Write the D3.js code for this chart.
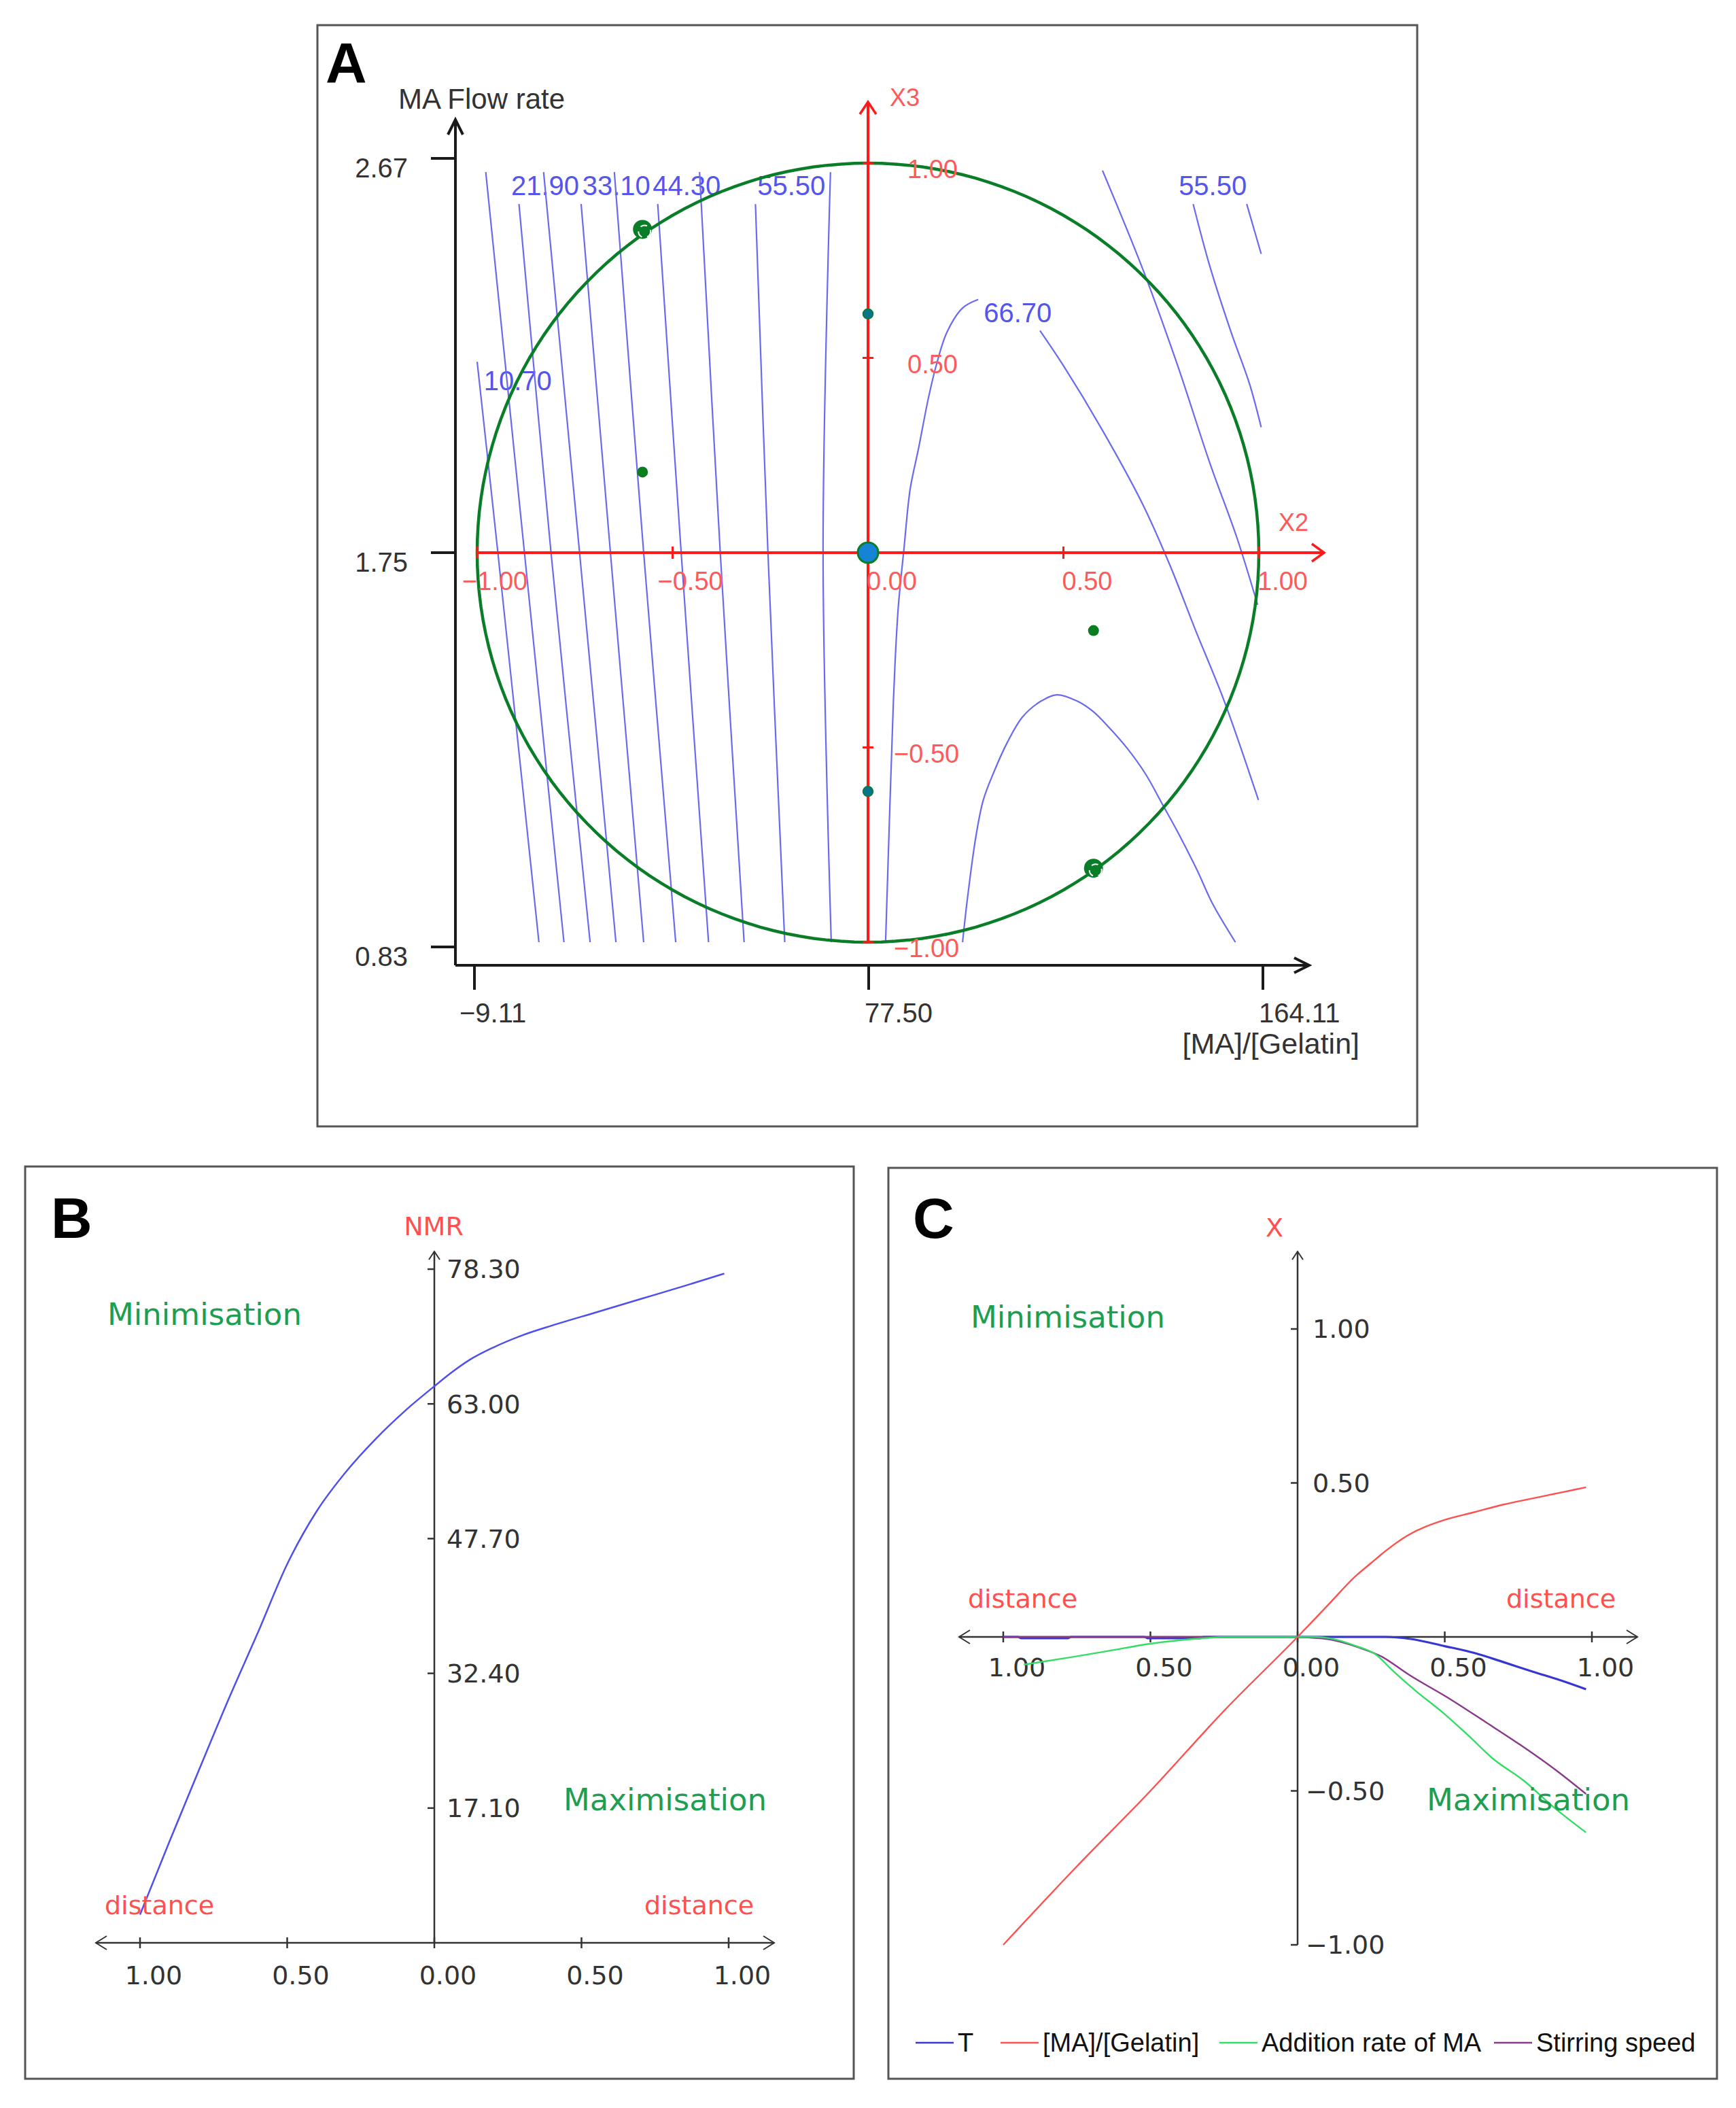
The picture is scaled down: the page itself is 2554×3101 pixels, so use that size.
<!DOCTYPE html>
<html><head><meta charset="utf-8">
<script src="https://cdn.jsdelivr.net/npm/d3@7"></script>
<style>body{margin:0;background:#fff}svg{display:block}</style>
</head><body>
<svg id="chart" width="2554" height="3101"></svg>
<script>
// ================= DATA =================
// Panel A – coded axes (X2, X3) and real axes
const codedTicks = [-1, -0.5, 0, 0.5, 1];
const ratioTicks = [-9.11, 77.50, 164.11];      // [MA]/[Gelatin]
const flowTicks  = [0.83, 1.75, 2.67];          // MA Flow rate
// iso-response lines, points given as [X2, X3] (coded)
const leftContourLevels = [10.7, 16.3, 21.9, 27.5, 33.1, 38.7, 44.3, 49.9, 55.5, 61.1];
const leftContours = [
  [[-1.000, 0.49], [-0.947, 0], [-0.842, -1]],
  [[-0.978, 0.977], [-0.879, 0], [-0.778, -1]],
  [[-0.893, 0.895], [-0.811, 0], [-0.711, -1]],
  [[-0.830, 0.977], [-0.738, 0], [-0.645, -1]],
  [[-0.734, 0.895], [-0.659, 0], [-0.574, -1]],
  [[-0.649, 0.977], [-0.574, 0], [-0.492, -1]],
  [[-0.538, 0.895], [-0.478, 0], [-0.408, -1]],
  [[-0.431, 0.977], [-0.378, 0], [-0.317, -1]],
  [[-0.288, 0.895], [-0.256, 0], [-0.213, -1]],
  [[-0.096, 0.977], [-0.115, 0], [-0.094, -1]]
];
const contour667Left = [[0.282,0.650],[0.242,0.628],[0.202,0.566],[0.176,0.486],[0.155,0.399],[0.129,0.266],[0.108,0.164],[0.092,0.010],[0.078,-0.133],[0.071,-0.247],[0.065,-0.381],[0.056,-0.649],[0.045,-1.0]];
const contour667Right = [[0.44,0.57],[0.50,0.48],[0.60,0.314],[0.703,0.124],[0.772,-0.031],[0.84,-0.204],[0.91,-0.377],[0.999,-0.635]];
const contour611 = [[0.600,0.981],[0.703,0.728],[0.790,0.487],[0.875,0.229],[0.944,0.038],[0.997,-0.134]];
const contour555 = [[0.832,0.895],[0.875,0.734],[0.929,0.566],[0.976,0.434],[1.006,0.322]];
const contour499 = [[0.969,0.895],[1.006,0.767]];
const contourHump = [[0.242,-1.0],[0.255,-0.883],[0.276,-0.729],[0.295,-0.635],[0.323,-0.561],[0.356,-0.488],[0.396,-0.421],[0.443,-0.381],[0.483,-0.365],[0.535,-0.381],[0.575,-0.407],[0.616,-0.448],[0.663,-0.502],[0.710,-0.568],[0.755,-0.649],[0.795,-0.722],[0.842,-0.815],[0.882,-0.902],[0.940,-1.0]];
const contourLabelValues = [10.7, 21.9, 33.1, 44.3, 55.5, 55.5, 66.7];
const contourLabelX2 = [-0.983, -0.913, -0.731, -0.551, -0.283, 0.795, 0.296];
const contourLabelX3 = [0.442, 0.942, 0.942, 0.942, 0.942, 0.942, 0.616];
// experimental (Doehlert) points
const designX2 = [0, 0, 0, -0.577, 0.577, -0.577, 0.577];
const designX3 = [0, 0.613, -0.613, 0.83, -0.81, 0.207, -0.20];
const designKind = ["center", "axis", "axis", "edge", "edge", "inner", "inner"];

// Panel B – NMR vs distance
const nmrTicks = [17.10, 32.40, 47.70, 63.00, 78.30];
const distTicks = [-1, -0.5, 0, 0.5, 1];
const nmrDist = [-1.0,-0.9,-0.8,-0.7,-0.6,-0.5,-0.4,-0.3,-0.2,-0.1,0,0.06,0.12,0.2,0.3,0.4,0.55,0.7,0.85,0.985];
const nmrVal  = [5.0,13.3,21.4,29.4,37.0,44.8,50.8,55.3,59.0,62.2,65.0,66.6,68.0,69.4,70.8,71.9,73.4,74.9,76.4,77.8];

// Panel C – factor trajectories
const xTicksC = [1.00, 0.50, -0.50, -1.00];
const seriesNames = ["T", "[MA]/[Gelatin]", "Addition rate of MA", "Stirring speed"];
const tDist = [-1,-0.95,-0.94,-0.78,-0.77,-0.52,-0.51,-0.33,-0.32,0,0.3,0.38,0.5,0.6,0.7,0.8,0.9,0.98];
const tVal  = [0,0,-0.004,-0.004,0,0,-0.004,-0.004,0,0,0,-0.006,-0.03,-0.052,-0.082,-0.113,-0.143,-0.17];
const ratioDist = [-1,-0.75,-0.5,-0.25,0,0.1,0.2,0.25,0.3,0.373,0.5,0.6,0.7,0.8,0.9,0.98];
const ratioVal  = [-1,-0.745,-0.5,-0.24,0,0.1,0.2,0.24,0.28,0.329,0.38,0.405,0.43,0.45,0.47,0.486];
const addDist = [-0.93,-0.77,-0.64,-0.5,-0.33,-0.24,0,0.06,0.107,0.2,0.27,0.313,0.4,0.495,0.58,0.662,0.77,0.874,0.98];
const addVal  = [-0.09,-0.066,-0.045,-0.022,-0.005,0,0,0,-0.004,-0.03,-0.06,-0.1,-0.174,-0.247,-0.32,-0.394,-0.468,-0.556,-0.635];
const stirDist = [-1,0,0.037,0.107,0.213,0.284,0.377,0.52,0.638,0.756,0.874,0.98];
const stirVal  = [0,0,-0.002,-0.008,-0.036,-0.063,-0.122,-0.203,-0.276,-0.35,-0.43,-0.51];

// ================= DRAWING =================
const svg = d3.select("#chart");
const FA = "'Liberation Sans', Arial, sans-serif";
const FV = "'DejaVu Sans', Verdana, sans-serif";
const RED = "#ff5050", GREENTXT = "#1e9e50", CONT = "#6a6af0";
const fmt = v => (v < 0 ? "\u2212" : "") + Math.abs(v).toFixed(2);

function frame(x0, y0, x1, y1) {
  svg.append("rect").attr("x", x0).attr("y", y0).attr("width", x1 - x0).attr("height", y1 - y0)
    .attr("fill", "none").attr("stroke", "#555").attr("stroke-width", 3);
}
function txt(g, x, y, s, opt) {
  return g.append("text").attr("x", x).attr("y", y).attr("dy", "0.35em").text(s)
    .attr("font-family", opt.ff || FA).attr("font-size", opt.fs || 38)
    .attr("fill", opt.fill || "#333").attr("text-anchor", opt.anchor || "start")
    .attr("font-weight", opt.fw || "normal");
}
function poly(g, pts, color, w) {
  g.append("path").attr("d", d3.line()(pts)).attr("fill", "none").attr("stroke", color)
    .attr("stroke-width", w).attr("stroke-linejoin", "miter");
}

// ---------- Panel A ----------
frame(467, 37, 2085, 1657);
const gA = svg.append("g");
const xA = d3.scaleLinear().domain([-1, 1]).range([702, 1852]);
const yA = d3.scaleLinear().domain([-1, 1]).range([1386, 240]);
const xF = d3.scaleLinear().domain([-9.11, 164.11]).range([698, 1858]);
const yF = d3.scaleLinear().domain([0.83, 2.67]).range([1393, 233]);
const cLine = d3.line().x(d => xA(d[0])).y(d => yA(d[1])).curve(d3.curveCatmullRom);

// contour labels
contourLabelValues.forEach((v, i) => {
  txt(gA, xA(contourLabelX2[i]), yA(contourLabelX3[i]), v.toFixed(2), {fs: 40, fill: "#5555ee"});
});
// contour lines
const allContours = leftContours.concat([contour667Left, contour667Right, contour611, contour555, contour499, contourHump]);
gA.selectAll("path.cont").data(allContours).enter().append("path").attr("class", "cont")
  .attr("d", cLine).attr("fill", "none").attr("stroke", CONT).attr("stroke-width", 2.2);

// experimental domain circle
const circ = d3.range(0, 360, 2).map(a => [Math.cos(a * Math.PI / 180), Math.sin(a * Math.PI / 180)]);
gA.append("path").attr("d", d3.line().x(d => xA(d[0])).y(d => yA(d[1])).curve(d3.curveLinearClosed)(circ))
  .attr("fill", "none").attr("stroke", "#0a7d28").attr("stroke-width", 4.5);

// red coded axes
const y0 = yA(0), x0 = xA(0);
poly(gA, [[xA(-1), y0], [1948, y0]], "#ff1a1a", 4);
poly(gA, [[1930, y0 - 13], [1948, y0], [1930, y0 + 13]], "#ff1a1a", 3.5);
poly(gA, [[x0, yA(-1)], [x0, 150]], "#ff1a1a", 4);
poly(gA, [[x0 - 12, 168], [x0, 150], [x0 + 12, 168]], "#ff1a1a", 3.5);
codedTicks.forEach(t => {
  poly(gA, [[xA(t), y0 - 9], [xA(t), y0 + 9]], "#ff1a1a", 3);
  txt(gA, xA(t) - (t < 0 ? 22 : 2), y0 + 42, fmt(t), {fs: 38, fill: "#ff5a5a"});
  if (t !== 0) {
    poly(gA, [[x0 - 8, yA(t)], [x0 + 8, yA(t)]], "#ff1a1a", 3);
    txt(gA, 1335 - (t < 0 ? 20 : 0), yA(t) + 9, fmt(t), {fs: 38, fill: "#ff5a5a"});
  }
});
txt(gA, 1903, 768, "X2", {fs: 36, fill: "#ff5a5a", anchor: "middle"});
txt(gA, 1331, 143, "X3", {fs: 36, fill: "#ff5a5a", anchor: "middle"});

// design points
designKind.forEach((k, i) => {
  const px = xA(designX2[i]), py = yA(designX3[i]);
  if (k === "center") {
    gA.append("circle").attr("cx", px).attr("cy", py).attr("r", 15).attr("fill", "#1583d6").attr("stroke", "#0a7d28").attr("stroke-width", 3);
  } else if (k === "axis") {
    gA.append("circle").attr("cx", px).attr("cy", py).attr("r", 7.5).attr("fill", "#08748a").attr("stroke", "#0a7d28").attr("stroke-width", 1.5);
  } else if (k === "edge") {
    gA.append("circle").attr("cx", px).attr("cy", py).attr("r", 14).attr("fill", "#0a7d28");
    gA.append("circle").attr("cx", px + 3).attr("cy", py + 3).attr("r", 9).attr("fill", "none")
      .attr("stroke", "#fff").attr("stroke-width", 2).attr("stroke-dasharray", "10,8");
  } else {
    gA.append("circle").attr("cx", px).attr("cy", py).attr("r", 8).attr("fill", "#0a7d1e");
  }
});

// black real axes
const AX = 670, AY = 1420;
poly(gA, [[AX, AY], [AX, 176]], "#1a1a1a", 4);
poly(gA, [[AX - 11, 198], [AX, 176], [AX + 11, 198]], "#1a1a1a", 4);
poly(gA, [[AX, AY], [1926, AY]], "#1a1a1a", 4);
poly(gA, [[1904, AY - 11], [1926, AY], [1904, AY + 11]], "#1a1a1a", 4);
flowTicks.forEach(t => {
  poly(gA, [[634, yF(t)], [AX, yF(t)]], "#1a1a1a", 4);
  txt(gA, 600, yF(t) + 14, t.toFixed(2), {fs: 40, anchor: "end"});
});
ratioTicks.forEach(t => {
  poly(gA, [[xF(t), AY], [xF(t), AY + 36]], "#1a1a1a", 4);
  txt(gA, xF(t) - 6 - (t < 0 ? 16 : 0), 1490, fmt(t), {fs: 40});
});
txt(gA, 586, 145, "MA Flow rate", {fs: 42});
txt(gA, 2000, 1535, "[MA]/[Gelatin]", {fs: 43, anchor: "end"});
txt(gA, 479, 93, "A", {fs: 84, fw: "bold", fill: "#000"});

// ---------- Panels B & C common ----------
function distAxes(g, xs, yAxisY, topY, bottomY) {
  const cx = xs(0);
  poly(g, [[xs(-1) - 65, yAxisY], [xs(1) + 67, yAxisY]], "#333", 2.5);
  poly(g, [[xs(-1) - 49, yAxisY - 10], [xs(-1) - 65, yAxisY], [xs(-1) - 49, yAxisY + 10]], "#333", 2);
  poly(g, [[xs(1) + 51, yAxisY - 10], [xs(1) + 67, yAxisY], [xs(1) + 51, yAxisY + 10]], "#333", 2);
  poly(g, [[cx, bottomY], [cx, topY]], "#333", 2.5);
  poly(g, [[cx - 8, topY + 12], [cx, topY], [cx + 8, topY + 12]], "#333", 2);
  distTicks.forEach(t => poly(g, [[xs(t), yAxisY - 8], [xs(t), yAxisY + 8]], "#333", 2.5));
}

// ---------- Panel B ----------
frame(37, 1716, 1256, 3058);
const gB = svg.append("g");
const xB = d3.scaleLinear().domain([-1, 1]).range([206, 1072]);
const yB = d3.scaleLinear().domain([1.8, 78.3]).range([2858, 1867]);
distAxes(gB, xB, yB(1.8), 1841, yB(1.8));
nmrTicks.forEach(t => {
  poly(gB, [[xB(0) - 10, yB(t)], [xB(0), yB(t)]], "#333", 2.5);
  txt(gB, xB(0) + 18, yB(t), t.toFixed(2), {ff: FV, fs: 38});
});
distTicks.forEach(t => txt(gB, xB(t) + 20, 2906, Math.abs(t).toFixed(2), {ff: FV, fs: 38, anchor: "middle"}));
gB.append("path").datum(d3.zip(nmrDist, nmrVal))
  .attr("d", d3.line().x(d => xB(d[0])).y(d => yB(d[1])).curve(d3.curveMonotoneX))
  .attr("fill", "none").attr("stroke", "#4f4fee").attr("stroke-width", 2.5);
txt(gB, 638, 1804, "NMR", {ff: FV, fs: 38, fill: RED, anchor: "middle"});
txt(gB, 158, 1933, "Minimisation", {ff: FV, fs: 45, fill: GREENTXT});
txt(gB, 829, 2647, "Maximisation", {ff: FV, fs: 45, fill: GREENTXT});
txt(gB, 154, 2803, "distance", {ff: FV, fs: 38, fill: RED});
txt(gB, 948, 2803, "distance", {ff: FV, fs: 38, fill: RED});
txt(gB, 75, 1792, "B", {fs: 84, fw: "bold", fill: "#000"});

// ---------- Panel C ----------
frame(1307, 1718, 2526, 3058);
const gC = svg.append("g");
const xC = d3.scaleLinear().domain([-1, 1]).range([1476, 2342]);
const yC = d3.scaleLinear().domain([-1, 1]).range([2861, 1955]);
distAxes(gC, xC, yC(0), 1841, yC(-1));
xTicksC.forEach(t => {
  poly(gC, [[xC(0) - 10, yC(t)], [xC(0), yC(t)]], "#333", 2.5);
  txt(gC, xC(0) + 22 - (t < 0 ? 10 : 0), yC(t), fmt(t), {ff: FV, fs: 38});
});
distTicks.forEach(t => txt(gC, xC(t) + 20, 2453, Math.abs(t).toFixed(2), {ff: FV, fs: 38, anchor: "middle"}));
const lineC = d3.line().x(d => xC(d[0])).y(d => yC(d[1])).curve(d3.curveMonotoneX);
const seriesColors = ["#3636d0", "#ff5050", "#33dd66", "#8a3a8a"];
const seriesData = [d3.zip(tDist, tVal), d3.zip(ratioDist, ratioVal), d3.zip(addDist, addVal), d3.zip(stirDist, stirVal)];
[0, 3, 2, 1].forEach(i => {
  gC.append("path").datum(seriesData[i]).attr("d", lineC).attr("fill", "none")
    .attr("stroke", seriesColors[i]).attr("stroke-width", i === 0 ? 3.2 : 2.4);
});
txt(gC, 1875, 1806, "X", {ff: FV, fs: 38, fill: RED, anchor: "middle"});
txt(gC, 1428, 1937, "Minimisation", {ff: FV, fs: 45, fill: GREENTXT});
txt(gC, 2099, 2647, "Maximisation", {ff: FV, fs: 45, fill: GREENTXT});
txt(gC, 1424, 2352, "distance", {ff: FV, fs: 38, fill: RED});
txt(gC, 2216, 2352, "distance", {ff: FV, fs: 38, fill: RED});
txt(gC, 1343, 1792, "C", {fs: 84, fw: "bold", fill: "#000"});
// legend
const legX = [1347, 1472, 1794, 2198];
seriesNames.forEach((n, i) => {
  poly(gC, [[legX[i], 3005], [legX[i] + 56, 3005]], seriesColors[i], 2.5);
  txt(gC, legX[i] + 62, 3005, n, {fs: 38, fill: "#111"});
});
</script>
</body></html>
